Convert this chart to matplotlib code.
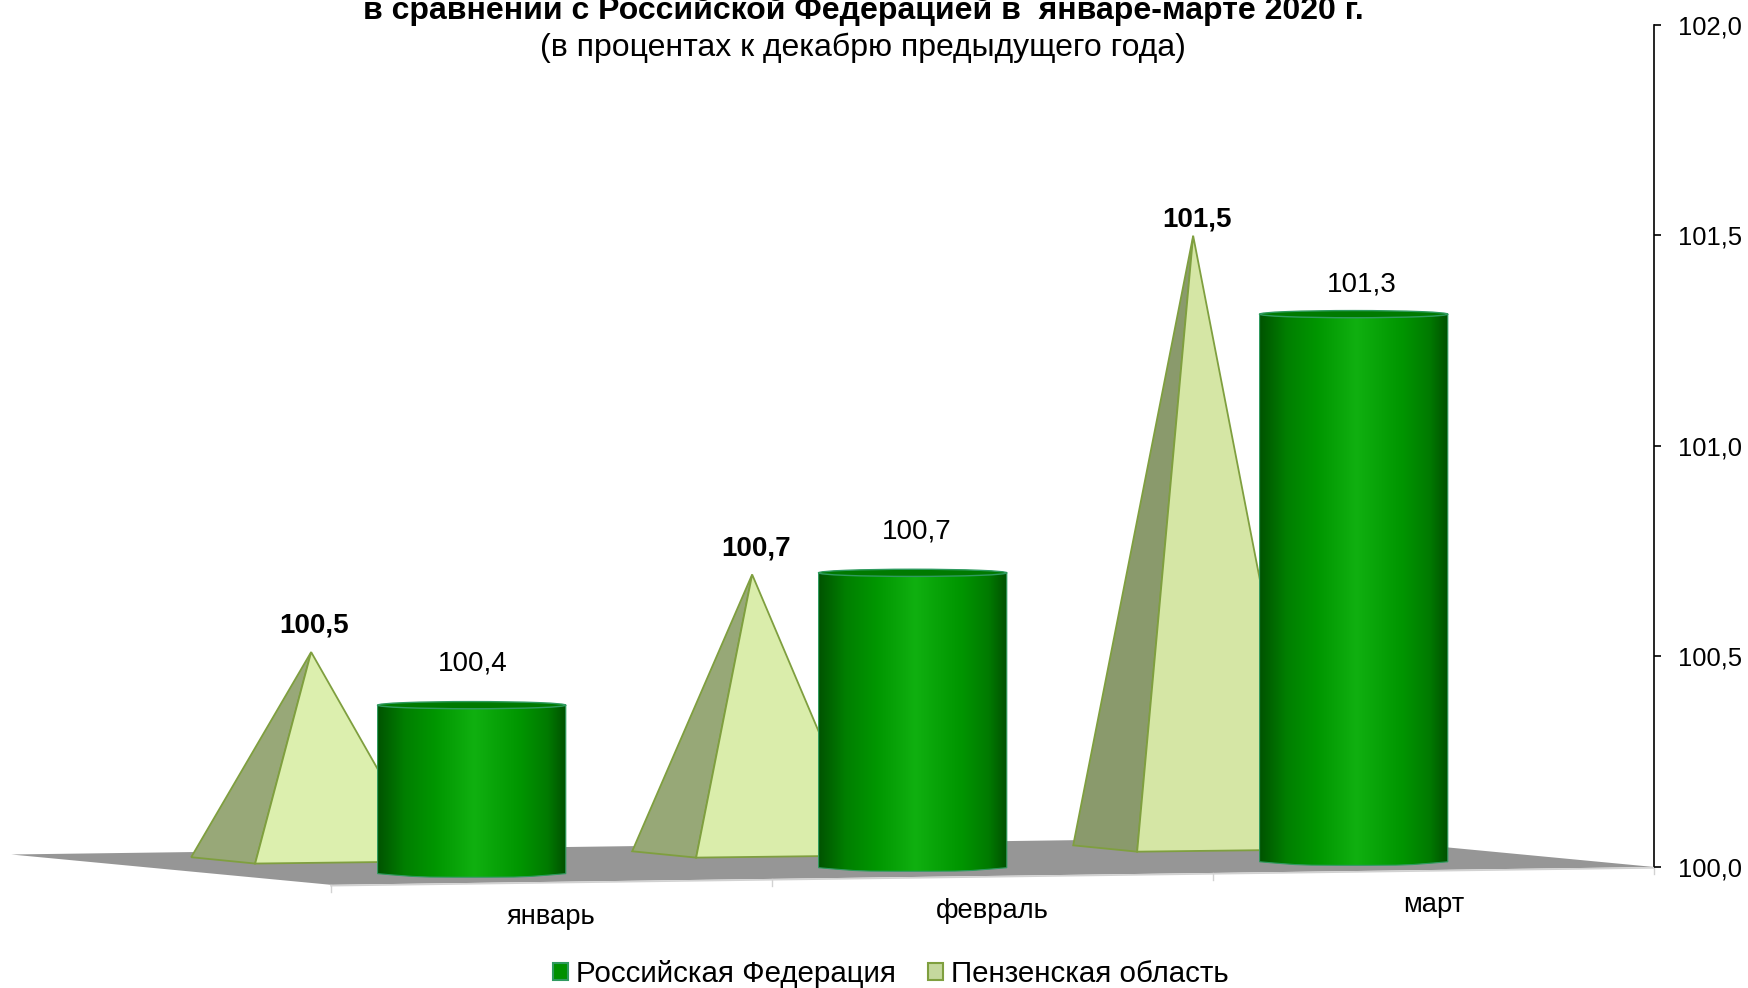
"""Russia vs Penza region, monthly index chart with a fake-3D floor."""

import matplotlib
matplotlib.use("Agg")
import matplotlib.pyplot as plt
import numpy as np
from matplotlib.colors import LinearSegmentedColormap
from matplotlib.patches import Ellipse, Patch, PathPatch, Polygon
from matplotlib.path import Path

plt.rcParams["font.family"] = ["Liberation Sans", "DejaVu Sans"]

months = ["январь", "февраль", "март"]
russia = [100.4, 100.7, 101.3]
penza = [100.52, 100.69, 101.48]
series_names = ["Российская Федерация", "Пензенская область"]
y_ticks = [100.0, 100.5, 101.0, 101.5, 102.0]

title = "в сравнении с Российской Федерацией в  январе-марте 2020 г."
subtitle = "(в процентах к декабрю предыдущего года)"

W, H = 1748, 988
AX_LEFT, AX_RIGHT, AX_BOTTOM, AX_TOP = 331, 1654, 867, 24.5

# fake 3D geometry, in category / value units
FLOOR_TILT = 0.0141
DEPTH_X, DEPTH_Y = -0.725, 0.072
CYL_CENTER, CYL_HALF, CYL_RIM = 0.319, 0.2134, 0.0085
CYL_LIFT = 0.022
PYR_REF = 0.006
PYR_APEX, PYR_BACK, PYR_FRONT, PYR_RIGHT = -0.045, -0.317, -0.172, 0.225
PYR_BACK_UP, PYR_FRONT_UP, PYR_RIGHT_UP = 0.039, 0.024, 0.029

left_faces = ["#98a878", "#97a877", "#8a9a6c"]
front_faces = ["#dcefae", "#daedab", "#d5e6a5"]
PYR_EDGE = "#7f9f3f"
CYL_EDGE = "#2f9a5f"
cyl_stops = [(0.0, "#005400"), (0.14, "#007f00"), (0.3, "#009600"),
             (0.51, "#10b010"), (0.75, "#009600"), (0.9, "#007a00"), (1.0, "#004f00")]

# label nudges in points
russia_label_off = [(1, 30), (3, 30), (6, 21.5)]
penza_label_off = [(2, 19), (3, 19), (3, 12)]
month_label_off = 25.5
VALUE_FONT, MONTH_FONT, TICK_FONT = 20, 19.7, 18.4


def floor_y(x):
    return 100 - (3 - x) * FLOOR_TILT


def draw_cylinder(ax, fig, cmap, i, value):
    cx = i + CYL_CENTER
    base = floor_y(cx) + CYL_LIFT
    top = base + (value - 100)
    l, r = cx - CYL_HALF, cx + CYL_HALF
    k = 0.5523
    verts = [(l, top), (l, base),
             (l + CYL_HALF * (1 - k), base - CYL_RIM), (cx - CYL_HALF * k, base - CYL_RIM), (cx, base - CYL_RIM),
             (cx + CYL_HALF * k, base - CYL_RIM), (r - CYL_HALF * (1 - k), base - CYL_RIM), (r, base),
             (r, top), (l, top)]
    codes = [Path.MOVETO, Path.LINETO, Path.CURVE4, Path.CURVE4, Path.CURVE4,
             Path.CURVE4, Path.CURVE4, Path.CURVE4, Path.LINETO, Path.CLOSEPOLY]
    body = PathPatch(Path(verts, codes), facecolor="none", edgecolor=CYL_EDGE,
                     linewidth=0.8, zorder=5, clip_on=False)
    ax.add_patch(body)
    grad = np.linspace(0, 1, 256)[None, :]
    im = ax.imshow(grad, extent=(l, r, base - CYL_RIM, top + CYL_RIM), cmap=cmap, aspect="auto",
                   zorder=4, interpolation="bilinear")
    im.set_clip_box(fig.bbox)
    im.set_clip_path(body)
    ax.add_patch(Ellipse((cx, top), 2 * CYL_HALF, 2 * CYL_RIM, facecolor="#007a00",
                         edgecolor=CYL_EDGE, linewidth=1.0, zorder=6, clip_on=False))
    return top


def draw_pyramid(ax, i, value):
    ref = floor_y(i + CYL_CENTER) + CYL_LIFT + PYR_REF
    base = floor_y(i + CYL_CENTER) + CYL_LIFT
    apex = (i + PYR_APEX, ref + (value - 100))
    back = (i + PYR_BACK, base + PYR_BACK_UP)
    front = (i + PYR_FRONT, base + PYR_FRONT_UP)
    right = (i + PYR_RIGHT, base + PYR_RIGHT_UP)
    ax.add_patch(Polygon([apex, back, front], closed=True, facecolor=left_faces[i],
                         edgecolor=PYR_EDGE, linewidth=1.3, zorder=2, clip_on=False))
    ax.add_patch(Polygon([apex, front, right], closed=True, facecolor=front_faces[i],
                         edgecolor=PYR_EDGE, linewidth=1.3, zorder=3, clip_on=False))
    return apex


def main():
    fig = plt.figure(figsize=(W / 100, H / 100), dpi=100)
    ax = fig.add_axes([AX_LEFT / W, 1 - AX_BOTTOM / H, (AX_RIGHT - AX_LEFT) / W, (AX_BOTTOM - AX_TOP) / H])
    ax.patch.set_alpha(0)

    cmap = LinearSegmentedColormap.from_list("cyl", cyl_stops)

    # floor
    floor = [(0, floor_y(0)), (3, floor_y(3)), (3 + DEPTH_X, floor_y(3) + DEPTH_Y), (DEPTH_X, floor_y(0) + DEPTH_Y)]
    ax.add_patch(Polygon(floor, closed=True, facecolor="#969696", edgecolor="none", zorder=1, clip_on=False))
    ax.plot([0, 3], [floor_y(0) - 0.002, floor_y(3) - 0.002], color="#d2d2d2", lw=1.2, zorder=1, clip_on=False)
    for t in range(4):
        ax.plot([t, t], [floor_y(t), floor_y(t) - 0.016], color="#d2d2d2", lw=1.0, zorder=1, clip_on=False)

    for i, month in enumerate(months):
        apex = draw_pyramid(ax, i, penza[i])
        top = draw_cylinder(ax, fig, cmap, i, russia[i])

        ax.annotate(f"{penza[i]:.1f}".replace(".", ","), apex, xytext=penza_label_off[i],
                    textcoords="offset points", ha="center", va="center",
                    fontsize=VALUE_FONT, fontweight="bold", zorder=8, annotation_clip=False)
        ax.annotate(f"{russia[i]:.1f}".replace(".", ","), (i + CYL_CENTER, top), xytext=russia_label_off[i],
                    textcoords="offset points", ha="center", va="center",
                    fontsize=VALUE_FONT, zorder=8, annotation_clip=False)
        ax.annotate(month, (i + 0.5, floor_y(i + 0.5)), xytext=(0, -month_label_off),
                    textcoords="offset points", ha="center", va="center",
                    fontsize=MONTH_FONT, zorder=8, annotation_clip=False)

    ax.set_xlim(0, 3)
    ax.set_ylim(100, 102)
    ax.set_xticks([])
    ax.yaxis.tick_right()
    ax.set_yticks(y_ticks)
    ax.set_yticklabels([f"{v:.1f}".replace(".", ",") for v in y_ticks], fontsize=TICK_FONT)
    ax.tick_params(axis="y", length=5, width=1.2, pad=12, color="black")
    for side in ("left", "top", "bottom"):
        ax.spines[side].set_visible(False)
    ax.spines["right"].set_linewidth(1.2)
    ax.spines["right"].set_zorder(0)

    fig.text(863 / W, 1 - 11 / H, title, ha="center", va="center", fontsize=23, fontweight="bold")
    fig.text(863 / W, 1 - 48 / H, subtitle, ha="center", va="center", fontsize=23)

    handles = [Patch(facecolor="#009000", edgecolor=CYL_EDGE, linewidth=1.5),
               Patch(facecolor="#c5d89e", edgecolor=PYR_EDGE, linewidth=1.5)]
    fig.legend(handles, series_names, loc="center", bbox_to_anchor=(891 / W, 1 - 974 / H), ncol=2,
               frameon=False, fontsize=21.25, handlelength=0.5, handleheight=0.5,
               handletextpad=0.27, columnspacing=1.1, borderpad=0)

    fig.savefig("out.png", dpi=100)
    plt.close(fig)


if __name__ == "__main__":
    main()
